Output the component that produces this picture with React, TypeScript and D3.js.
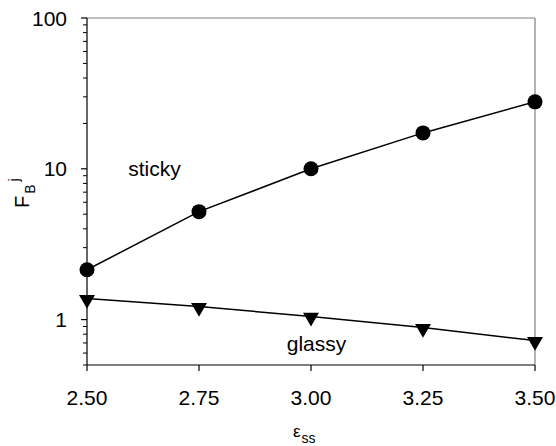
import React from "react";
import * as d3 from "d3";

const epsValues = [2.5, 2.75, 3.0, 3.25, 3.5];
const stickyValues = [2.14, 5.2, 10.0, 17.3, 27.8];
const glassyValues = [1.38, 1.22, 1.05, 0.885, 0.726];
const xTicks = [2.5, 2.75, 3.0, 3.25, 3.5];
const yMajorTicks = [1, 10, 100];

const W = 556, H = 446;
const M = { left: 87, right: 535, top: 18, bottom: 365 };
const FONT = "Liberation Sans, Arial, sans-serif";

export default function App() {
  const x = d3.scaleLinear().domain([2.5, 3.5]).range([M.left, M.right]);
  const y = d3.scaleLog().domain([0.5, 100]).range([M.bottom, M.top]);
  const minor: number[] = [];
  for (const dec of [0.1, 1, 10]) {
    for (let k = 2; k <= 9; k++) {
      const v = k * dec;
      if (v >= 0.5 && v <= 100 && !yMajorTicks.includes(v)) minor.push(v);
    }
  }
  const line = d3.line<number>().x((_, i) => x(epsValues[i])).y((d) => y(d));
  const tri = d3.symbol().type(d3.symbolTriangle).size(110);
  return (
    <svg width={W} height={H} style={{ position: "absolute", left: 0, top: 0 }}>
      <rect width={W} height={H} fill="#fff" />
      {/* frame */}
      <line x1={M.left} x2={M.right} y1={M.top} y2={M.top} stroke="#808080" strokeWidth={1.2} />
      <line x1={M.right} x2={M.right} y1={M.top} y2={M.bottom} stroke="#808080" strokeWidth={1.2} />
      <line x1={M.left} x2={M.left} y1={M.top} y2={M.bottom} stroke="#000" strokeWidth={1.2} />
      <line x1={M.left} x2={M.right} y1={M.bottom} y2={M.bottom} stroke="#000" strokeWidth={1.2} />
      {/* y ticks */}
      {yMajorTicks.map((t) => (
        <g key={t}>
          <line x1={M.left - 6} x2={M.left} y1={y(t)} y2={y(t)} stroke="#000" strokeWidth={1.2} />
          <text x={M.left - 20} y={y(t)} dy="0.36em" textAnchor="end" fontFamily={FONT} fontSize={21}>{t}</text>
        </g>
      ))}
      {minor.map((t) => (
        <line key={t} x1={M.left - 4} x2={M.left} y1={y(t)} y2={y(t)} stroke="#000" strokeWidth={1} />
      ))}
      {/* x ticks */}
      {xTicks.map((t) => (
        <g key={t}>
          <line x1={x(t)} x2={x(t)} y1={M.bottom} y2={M.bottom + 6} stroke="#000" strokeWidth={1.2} />
          <text x={x(t)} y={M.bottom + 40} textAnchor="middle" fontFamily={FONT} fontSize={21}>{t.toFixed(2)}</text>
        </g>
      ))}
      {/* series */}
      <path d={line(stickyValues) || ""} fill="none" stroke="#000" strokeWidth={1.5} />
      <path d={line(glassyValues) || ""} fill="none" stroke="#000" strokeWidth={1.5} />
      {stickyValues.map((v, i) => (
        <circle key={i} cx={x(epsValues[i])} cy={y(v)} r={7.5} fill="#000" />
      ))}
      {glassyValues.map((v, i) => (
        <path key={i} d={tri() || ""} transform={`translate(${x(epsValues[i])},${y(v) + 1}) rotate(180)`} fill="#000" />
      ))}
      {/* annotations */}
      <text x={154.5} y={176} textAnchor="middle" fontFamily={FONT} fontSize={21}>sticky</text>
      <text x={316.5} y={351} textAnchor="middle" fontFamily={FONT} fontSize={21}>glassy</text>
      {/* axis titles */}
      <text transform="translate(29,208) rotate(-90)" textAnchor="start" fontFamily={FONT} fontSize={20}>
        F<tspan fontSize={14} dy={6} dx={2}>B</tspan><tspan fontSize={14} dy={-16} dx={3}>j</tspan>
      </text>
      <text x={293} y={437} textAnchor="start" fontFamily={FONT} fontSize={17}>
        ε<tspan fontSize={14} dy={6} dx={1}>ss</tspan>
      </text>
    </svg>
  );
}
